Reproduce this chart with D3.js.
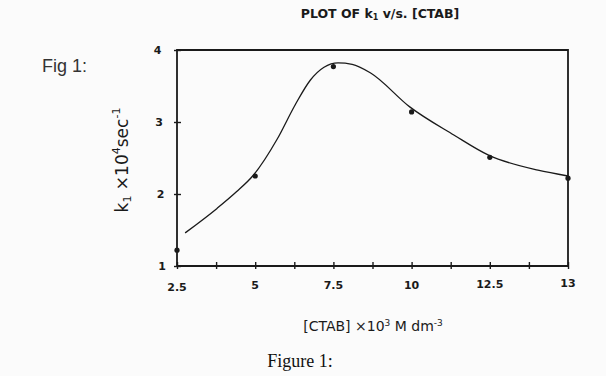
<!DOCTYPE html>
<html>
<head>
<meta charset="utf-8">
<script src="https://cdn.jsdelivr.net/npm/d3@7"></script>
<style>
  body { margin: 0; background: #fbfbfb; }
  svg { display: block; }
</style>
</head>
<body>
<div id="chart"></div>
<script>
// measured points, k1 x 10^4 sec^-1 vs [CTAB] x 10^3
const ctab = [2.5, 5, 7.5, 10, 12.5, 15];
const k1 = [1.22, 2.25, 3.77, 3.14, 2.51, 2.22];

// hand drawn smooth curve
const curveX = [2.76, 3.78, 4.4, 4.94, 5.7, 6.28, 6.76, 7.2, 7.65, 8.1, 8.69, 9.94, 11.35, 12.46, 14.04, 15];
const curveY = [1.46, 1.8, 2.03, 2.26, 2.76, 3.24, 3.58, 3.76, 3.82, 3.80, 3.68, 3.21, 2.82, 2.54, 2.33, 2.25];

// tick labels as printed (last one reads "13")
const xTicks = [2.5, 3.75, 5, 6.25, 7.5, 8.75, 10, 11.25, 12.5, 13.75, 15];
const xLabels = ['2.5', '5', '7.5', '10', '12.5', '13'];
const yTicks = [1, 2, 3, 4];

const [width, height] = [606, 376];

const svg = d3.select('#chart')
    .append('svg')
    .attr('width', width)
    .attr('height', height);

const x = d3.scaleLinear().domain([2.5, 15]).range([177, 568]);
const y = d3.scaleLinear().domain([1, 4]).range([266, 50]);

const ink = '#1a1a1a';

// frame: left, top, right, bottom
svg.append('path')
    .attr('d', `M${x(2.5)},${y(1)}V${y(4)}H${x(15)}V${y(1)}H${x(2.5)}`)
    .attr('fill', 'none')
    .attr('stroke', ink)
    .attr('stroke-width', 1.8);

// x axis ticks, crossing the axis line
const xAxis = d3.axisBottom(x)
    .tickValues(xTicks)
    .tickSize(7)
    .tickFormat('');
const gx = svg.append('g')
    .attr('transform', `translate(0, ${y(1) - 4})`)
    .call(xAxis);
gx.select('.domain').remove();
gx.selectAll('line').attr('stroke', ink).attr('stroke-width', 1.4);

svg.append('g')
    .selectAll('text')
    .data(xLabels)
    .join('text')
    .attr('x', (d, i) => x(xTicks[i * 2]))
    .attr('y', (d, i) => [291, 289, 289, 289, 288, 287][i])
    .attr('text-anchor', 'middle')
    .attr('font-family', 'DejaVu Sans, sans-serif')
    .attr('font-weight', 'bold')
    .attr('font-size', 11)
    .attr('fill', ink)
    .text((d) => d);

// y axis ticks
const yAxis = d3.axisLeft(y)
    .tickValues(yTicks)
    .tickSize(7)
    .tickFormat('');
const gy = svg.append('g')
    .attr('transform', `translate(${x(2.5) + 4}, 0)`)
    .call(yAxis);
gy.select('.domain').remove();
gy.selectAll('line').attr('stroke', ink).attr('stroke-width', 1.4);

svg.append('g')
    .selectAll('text')
    .data(yTicks)
    .join('text')
    .attr('x', (d) => 162 - (d - 1) * 1.5)
    .attr('y', (d) => y(d) + 4)
    .attr('text-anchor', 'middle')
    .attr('font-family', 'DejaVu Sans, sans-serif')
    .attr('font-weight', 'bold')
    .attr('font-size', 11)
    .attr('fill', ink)
    .text((d) => d);

// fitted curve
const line = d3.line()
    .x((d) => x(d[0]))
    .y((d) => y(d[1]))
    .curve(d3.curveMonotoneX);

svg.append('path')
    .datum(d3.zip(curveX, curveY))
    .attr('d', line)
    .attr('fill', 'none')
    .attr('stroke', ink)
    .attr('stroke-width', 1.3);

// data points
svg.append('g')
    .selectAll('circle')
    .data(d3.zip(ctab, k1))
    .join('circle')
    .attr('cx', (d) => x(d[0]))
    .attr('cy', (d) => y(d[1]))
    .attr('r', 2.6)
    .attr('fill', ink);

// title
svg.append('text')
    .attr('x', 380)
    .attr('y', 18)
    .attr('text-anchor', 'middle')
    .attr('font-family', 'DejaVu Sans, sans-serif')
    .attr('font-weight', 'bold')
    .attr('font-size', 12.5)
    .attr('fill', ink)
    .html('PLOT OF k<tspan font-size="8" dy="2">1</tspan><tspan dy="-2"> v/s. [CTAB]</tspan>');

// axis titles
svg.append('text')
    .attr('x', 373)
    .attr('y', 331)
    .attr('text-anchor', 'middle')
    .attr('font-family', 'DejaVu Sans, sans-serif')
    .attr('font-size', 14)
    .attr('fill', ink)
    .html('[CTAB] ×10<tspan font-size="9" dy="-5">3</tspan><tspan dy="5"> M dm</tspan><tspan font-size="9" dy="-5">-3</tspan>');

svg.append('text')
    .attr('transform', 'translate(128, 160) rotate(-90)')
    .attr('text-anchor', 'middle')
    .attr('font-family', 'DejaVu Sans, sans-serif')
    .attr('font-size', 17)
    .attr('fill', ink)
    .html('k<tspan font-size="11" dy="3">1</tspan><tspan dy="-3"> ×10</tspan><tspan font-size="11" dy="-8">4</tspan><tspan dy="8">sec</tspan><tspan font-size="11" dy="-8">-1</tspan>');

// figure captions
svg.append('text')
    .attr('x', 42)
    .attr('y', 72)
    .attr('font-family', 'Liberation Sans, Arial, sans-serif')
    .attr('font-size', 18)
    .attr('fill', '#333')
    .text('Fig 1:');

svg.append('text')
    .attr('x', 300)
    .attr('y', 367)
    .attr('text-anchor', 'middle')
    .attr('font-family', 'Liberation Serif, Times New Roman, serif')
    .attr('font-size', 18)
    .attr('fill', '#111')
    .text('Figure 1:');
</script>
</body>
</html>
